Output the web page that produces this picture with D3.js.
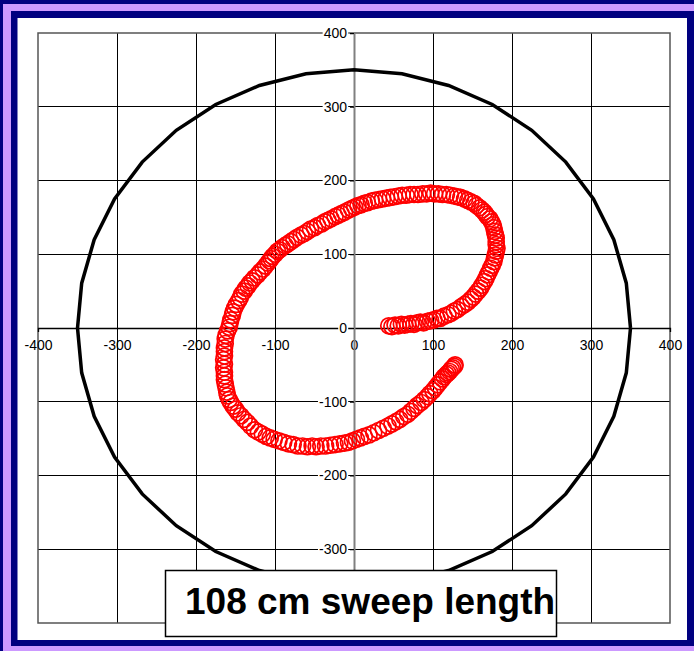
<!DOCTYPE html>
<html>
<head>
<meta charset="utf-8">
<script src="https://cdnjs.cloudflare.com/ajax/libs/d3/7.8.5/d3.min.js"></script>
<style>
  body { margin: 0; background: #fff; }
  svg { display: block; }
  text { font-family: "Liberation Sans", Arial, sans-serif; }
</style>
</head>
<body>
<div id="chart"></div>
<script>
// tick values on both axes
var xTicks = [-400, -300, -200, -100, 0, 100, 200, 300, 400];
var yTicks = [-300, -200, -100, 0, 100, 200, 300, 400];

// reference circle radius
var circleRadius = 350;

// sweep points (x, y)
var sweepX = [44, 48, 52, 56, 60, 64, 68, 72, 76, 80, 84, 88, 93, 97, 101, 105, 109, 114, 119,
  123, 127, 131, 136, 140, 144, 148, 151, 154, 157, 160, 162, 165, 167, 169, 171, 173, 175, 177, 178,
  179, 180, 181, 180, 180, 180, 179, 178, 177, 176, 174, 172, 169, 167, 165, 162, 159, 155, 152, 148,
  144, 140, 135, 131, 127, 122, 117, 112, 107, 102, 97, 92, 87, 81, 76, 71, 66, 61, 56, 51,
  46, 41, 36, 31, 26, 22, 17, 13, 9, 5, 1, -3, -7, -12, -16, -20, -24, -29, -33, -37,
  -41, -46, -50, -55, -59, -63, -67, -72, -76, -80, -84, -87, -91, -94, -97, -100, -103, -105, -107, -109,
  -112, -115, -119, -122, -126, -129, -132, -134, -137, -139, -142, -144, -146, -149, -151, -153, -154, -156, -157, -158,
  -160, -162, -163, -163, -164, -164, -164, -165, -164, -165, -164, -164, -164, -163, -162, -161, -160,
  -158, -156, -153, -150, -147, -143, -139, -135, -131, -126, -121, -116, -111, -106, -101,
  -95, -89, -83, -77, -71, -65, -59, -53, -48, -42, -36, -30, -24, -18, -12,
  -7, -2, 3, 8, 13, 19, 25, 31, 37, 43, 48, 53, 58, 63, 68, 72, 76, 80, 85, 89,
  93, 96, 100, 103, 106, 109, 112, 114, 117, 119, 121, 123, 125, 127, 128];
var sweepY = [3, 2, 4, 3, 5, 4, 5, 6, 5, 7, 8, 7, 9, 10, 11, 13, 13, 16, 18,
  20, 23, 25, 29, 32, 35, 39, 42, 46, 50, 54, 58, 63, 67, 72, 76, 81, 85, 90, 95,
  99, 104, 108, 113, 117, 122, 126, 131, 136, 140, 144, 148, 151, 154, 157, 160, 163, 166, 169, 171,
  173, 175, 177, 178, 179, 180, 181, 181, 182, 182, 183, 182, 182, 181, 181, 181, 180, 180, 179, 178,
  177, 176, 175, 174, 173, 172, 170, 169, 167, 166, 164, 162, 160, 157, 155, 153, 151, 148, 146, 144,
  141, 139, 136, 134, 131, 128, 126, 123, 120, 117, 114, 112, 109, 106, 104, 100, 97, 94, 91, 88,
  84, 80, 76, 72, 68, 64, 61, 57, 54, 50, 46, 41, 37, 32, 27, 22, 17, 11, 6, 1,
  -4, -10, -15, -21, -27, -32, -38, -43, -49, -54, -60, -65, -70, -76, -81, -87, -92,
  -97, -101, -106, -110, -115, -119, -124, -128, -133, -138, -141, -144, -147, -149, -151,
  -153, -155, -157, -158, -160, -160, -161, -160, -161, -160, -160, -159, -158, -157, -156,
  -155, -153, -151, -149, -147, -145, -142, -139, -136, -133, -130, -127, -124, -120, -117, -113, -109, -105, -101, -97,
  -93, -89, -85, -81, -77, -73, -69, -66, -63, -61, -59, -56, -54, -52, -50];

var title = "108 cm sweep length";

var svgWidth = 694;
var svgHeight = 651;

// plot area inside the frame
var plot = { left: 38, top: 33, right: 670, bottom: 623 };

var svg = d3.select("#chart")
  .append("svg")
  .attr("width", svgWidth)
  .attr("height", svgHeight);

// frame: navy, lavender, navy, white
svg.append("rect").attr("x", 0).attr("y", 0).attr("width", svgWidth).attr("height", svgHeight).attr("fill", "#000080");
svg.append("rect").attr("x", 3).attr("y", 4).attr("width", svgWidth).attr("height", svgHeight).attr("fill", "#cc99ff");
svg.append("rect").attr("x", 11).attr("y", 11).attr("width", svgWidth).attr("height", 635).attr("fill", "#000080");
svg.append("rect").attr("x", 17.5).attr("y", 18).attr("width", 669.5).attr("height", 622).attr("fill", "#ffffff");

var x = d3.scaleLinear().domain([-400, 400]).range([plot.left, plot.right]);
var y = d3.scaleLinear().domain([-400, 400]).range([plot.bottom, plot.top]);

// gridlines
var grid = svg.append("g").attr("shape-rendering", "crispEdges");
grid.selectAll(".vgrid")
  .data(xTicks.filter(d => d !== 0 && Math.abs(d) !== 400))
  .enter()
  .append("line")
  .attr("x1", d => x(d)).attr("x2", d => x(d))
  .attr("y1", plot.top).attr("y2", plot.bottom)
  .attr("stroke", "#000").attr("stroke-width", 1);
grid.selectAll(".hgrid")
  .data([-300, -200, -100, 100, 200, 300])
  .enter()
  .append("line")
  .attr("x1", plot.left).attr("x2", plot.right)
  .attr("y1", d => y(d)).attr("y2", d => y(d))
  .attr("stroke", "#000").attr("stroke-width", 1);

// plot border
svg.append("rect")
  .attr("x", plot.left).attr("y", plot.top)
  .attr("width", plot.right - plot.left).attr("height", plot.bottom - plot.top)
  .attr("fill", "none").attr("stroke", "#555").attr("stroke-width", 1.5);

// plain hyphen for negatives, like the original
var fmt = d => String(d);

// x axis through 0
var xAxis = svg.append("g")
  .attr("transform", `translate(0, ${y(0)})`)
  .call(d3.axisBottom(x).tickValues(xTicks).tickSize(4).tickPadding(8).tickFormat(fmt));
xAxis.select(".domain").attr("stroke", "#000").attr("stroke-width", 1.3);
xAxis.selectAll("text").attr("font-size", 14).attr("fill", "#000")
  .attr("font-family", "Liberation Sans, Arial, sans-serif");

// y axis through 0
var yAxis = svg.append("g")
  .attr("transform", `translate(${x(0)}, 0)`)
  .call(d3.axisLeft(y).tickValues(yTicks).tickSize(4).tickPadding(3).tickFormat(fmt));
yAxis.select(".domain").attr("stroke", "#808080").attr("stroke-width", 2);
yAxis.selectAll("line").attr("stroke", "#000");
yAxis.selectAll("text").attr("font-size", 14).attr("fill", "#000")
  .attr("font-family", "Liberation Sans, Arial, sans-serif");

// white behind the y labels so the gridlines stop there
yAxis.selectAll(".tick").each(function() {
  var t = d3.select(this).select("text");
  var bb = t.node().getBBox();
  d3.select(this).insert("rect", "text")
    .attr("x", bb.x - 1).attr("y", bb.y + 2)
    .attr("width", bb.width + 2).attr("height", bb.height - 4)
    .attr("fill", "#fff");
});

// the reference circle, drawn as a polygon like the spreadsheet series
var angles = d3.range(0, 361, 10);
var circleLine = d3.line()
  .x(a => x(circleRadius * Math.cos(a * Math.PI / 180)))
  .y(a => y(circleRadius * Math.sin(a * Math.PI / 180)));
svg.append("path")
  .attr("d", circleLine(angles))
  .attr("fill", "none")
  .attr("stroke", "#000")
  .attr("stroke-width", 3.5)
  .attr("stroke-linejoin", "miter");

// sweep markers
svg.append("g")
  .selectAll("circle")
  .data(sweepX.map((d, i) => [d, sweepY[i]]))
  .enter()
  .append("circle")
  .attr("cx", d => x(d[0]))
  .attr("cy", d => y(d[1]))
  .attr("r", 8)
  .attr("fill", "none")
  .attr("stroke", "#ff0000")
  .attr("stroke-width", 1.7);

// title box
svg.append("rect")
  .attr("x", 165.5).attr("y", 570.5)
  .attr("width", 391).attr("height", 66)
  .attr("fill", "#fff")
  .attr("stroke", "#000").attr("stroke-width", 1.5);
svg.append("text")
  .attr("x", 185).attr("y", 614)
  .attr("font-size", 37)
  .attr("font-weight", "bold")
  .attr("fill", "#000")
  .text(title);
</script>
</body>
</html>
